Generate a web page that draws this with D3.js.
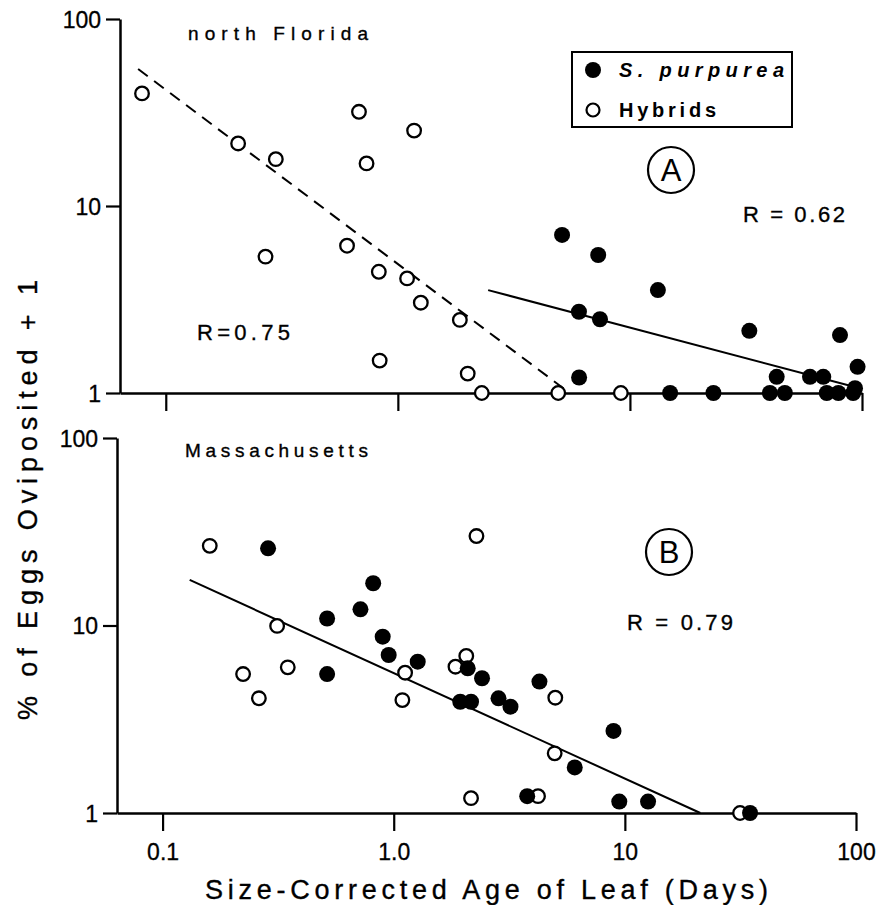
<!DOCTYPE html>
<html>
<head>
<meta charset="utf-8">
<script src="https://cdn.jsdelivr.net/npm/d3@7"></script>
<style>
  body { margin: 0; background: #fff; }
</style>
</head>
<body>
<div id="chart"></div>
<script>
// panel A - north Florida
var flPurpAge  = [5.1, 7.3, 13.2, 6.03, 7.43, 32.7, 80.4, 95.7, 6.04, 42.9, 59.7, 68.1, 93.3, 14.9, 22.9, 40.1, 46.5, 70.5, 79.1, 91.6];
var flPurpEggs = [7.0, 5.47, 3.55, 2.72, 2.48, 2.15, 2.04, 1.38, 1.21, 1.22, 1.22, 1.22, 1.06, 1, 1, 1, 1, 1, 1, 1];
var flHybAge   = [0.079, 0.205, 0.298, 0.68, 1.175, 0.733, 0.269, 0.604, 0.828, 1.096, 1.256, 0.835, 1.85, 2.0, 2.3, 4.91, 9.14];
var flHybEggs  = [40, 21.6, 17.8, 31.9, 25.3, 16.9, 5.36, 6.13, 4.45, 4.1, 3.04, 1.49, 2.46, 1.27, 1, 1, 1];
var flHybFit   = [[0.076, 54], [5.5, 1.0]];
var flPurpFit  = [[2.45, 3.55], [95, 1.07]];

// panel B - Massachusetts
var maPurpAge  = [0.286, 0.815, 0.718, 0.515, 0.896, 0.951, 1.27, 0.515, 2.09, 2.41, 1.94, 2.16, 2.84, 3.2, 4.27, 8.93, 6.07, 3.78, 9.46, 12.6, 34.8];
var maPurpEggs = [25.8, 16.8, 12.2, 10.9, 8.72, 6.96, 6.41, 5.51, 5.91, 5.23, 3.92, 3.92, 4.09, 3.69, 5.02, 2.74, 1.75, 1.23, 1.15, 1.15, 1];
var maHybAge   = [0.16, 0.313, 0.223, 0.261, 0.348, 1.12, 1.09, 2.28, 2.06, 1.85, 5.0, 4.97, 2.16, 4.21, 31.5];
var maHybEggs  = [26.6, 9.95, 5.51, 4.09, 5.98, 5.6, 4.0, 30.0, 6.88, 6.03, 4.12, 2.08, 1.2, 1.23, 1];
var maFit      = [[0.131, 17.5], [21.2, 1.0]];

var xTicks = [0.1, 1, 10, 100];
var xTickLabels = ["0.1", "1.0", "10", "100"];
var yTicks = [1, 10, 100];
var yTickLabels = ["1", "10", "100"];

var font = "'Liberation Sans', Arial, sans-serif";

var svg = d3.select("#chart").append("svg")
    .attr("width", 884)
    .attr("height", 905)
    .style("background", "#fff");

function drawPanel(cfg) {
    var x = d3.scaleLog().domain([0.0635, 100]).range(cfg.xr);
    var y = d3.scaleLog().domain([1, 100]).range(cfg.yr);
    var g = svg.append("g").attr("class", cfg.name);

    // y axis
    var yAxis = d3.axisLeft(y)
        .tickValues(yTicks)
        .tickFormat(function(d, i){ return yTickLabels[i]; })
        .tickSize(14)
        .tickSizeOuter(0)
        .tickPadding(5);
    var ya = g.append("g")
        .attr("transform", "translate(" + cfg.xr[0] + ",0)")
        .call(yAxis);

    // x axis
    var xAxis = d3.axisBottom(x)
        .tickValues(xTicks)
        .tickFormat(function(d, i){ return cfg.xLabels ? xTickLabels[i] : ""; })
        .tickSize(18)
        .tickSizeOuter(0)
        .tickPadding(13);
    var xa = g.append("g")
        .attr("transform", "translate(0," + cfg.yr[0] + ")")
        .call(xAxis);

    [ya, xa].forEach(function(a){
        a.select(".domain").attr("stroke", "#000").attr("stroke-width", 2.5);
        a.selectAll(".tick line").attr("stroke", "#000").attr("stroke-width", 2.2);
        a.selectAll("text")
            .attr("font-family", font)
            .attr("font-size", 23)
            .attr("fill", "#000")
            .attr("stroke", "#000")
            .attr("stroke-width", 0.3);
    });
    ya.selectAll("text").attr("dy", "0.36em");

    // fit lines
    var line = d3.line().x(function(d){ return x(d[0]); }).y(function(d){ return y(d[1]); });
    cfg.fits.forEach(function(f){
        g.append("path")
            .attr("d", line(f.pts))
            .attr("fill", "none")
            .attr("stroke", "#000")
            .attr("stroke-width", 2)
            .attr("stroke-dasharray", f.dashed ? "12,8" : null);
    });

    // hybrids (open)
    g.selectAll(".hyb")
        .data(d3.zip(cfg.hybX, cfg.hybY))
        .enter().append("circle")
        .attr("class", "hyb")
        .attr("cx", function(d){ return x(d[0]); })
        .attr("cy", function(d){ return y(d[1]); })
        .attr("r", 6.8)
        .attr("fill", "#fff")
        .attr("stroke", "#000")
        .attr("stroke-width", 2.3);

    // S. purpurea (filled)
    g.selectAll(".purp")
        .data(d3.zip(cfg.purpX, cfg.purpY))
        .enter().append("circle")
        .attr("class", "purp")
        .attr("cx", function(d){ return x(d[0]); })
        .attr("cy", function(d){ return y(d[1]); })
        .attr("r", 8)
        .attr("fill", "#000");
}

drawPanel({
    name: "panelA", xr: [120, 862], yr: [393, 19], xLabels: false,
    hybX: flHybAge, hybY: flHybEggs, purpX: flPurpAge, purpY: flPurpEggs,
    fits: [{pts: flHybFit, dashed: true}, {pts: flPurpFit, dashed: false}]
});

drawPanel({
    name: "panelB", xr: [117, 856], yr: [813, 438], xLabels: true,
    hybX: maHybAge, hybY: maHybEggs, purpX: maPurpAge, purpY: maPurpEggs,
    fits: [{pts: maFit, dashed: false}]
});

// text labels
function label(txt, x, y, size, len, extra) {
    var t = svg.append("text")
        .text(txt)
        .attr("x", x)
        .attr("y", y)
        .attr("font-family", font)
        .attr("font-size", size)
        .attr("fill", "#000")
        .attr("stroke", "#000")
        .attr("stroke-width", 0.35);
    if (len) t.attr("textLength", len).attr("lengthAdjust", "spacing");
    if (extra) extra(t);
    return t;
}

label("north Florida", 188, 40, 19, 180);
label("Massachusetts", 185, 457, 19, 183);
label("R=0.75", 197, 340, 22, 93);
label("R = 0.62", 743, 222, 22, 102);
label("R = 0.79", 627, 630, 22, 106);

// circled panel letters
[["A", 671, 170], ["B", 669, 552]].forEach(function(p){
    svg.append("circle")
        .attr("cx", p[1]).attr("cy", p[2]).attr("r", 23)
        .attr("fill", "none").attr("stroke", "#000").attr("stroke-width", 2.2);
    svg.append("text")
        .text(p[0])
        .attr("x", p[1]).attr("y", p[2] + 11)
        .attr("text-anchor", "middle")
        .attr("font-family", font)
        .attr("font-size", 31)
        .attr("fill", "#000");
});

// axis titles
label("Size-Corrected Age of Leaf (Days)", 205, 899, 27, 563);
label("% of Eggs Oviposited + 1", 0, 0, 27, 440, function(t){
    t.attr("text-anchor", "middle")
     .attr("x", -500)
     .attr("y", 37)
     .attr("transform", "rotate(-90)");
});

// legend
var legend = svg.append("g").attr("class", "legend");
legend.append("rect")
    .attr("x", 572).attr("y", 52).attr("width", 220).attr("height", 75)
    .attr("fill", "#fff").attr("stroke", "#000").attr("stroke-width", 2);
legend.append("circle").attr("cx", 593).attr("cy", 70).attr("r", 8).attr("fill", "#000");
legend.append("circle").attr("cx", 593).attr("cy", 110).attr("r", 6.5)
    .attr("fill", "#fff").attr("stroke", "#000").attr("stroke-width", 2.2);
legend.append("text").text("S. purpurea")
    .attr("x", 619).attr("y", 77)
    .attr("font-family", font).attr("font-size", 20).attr("font-style", "italic")
    .attr("font-weight", "bold")
    .attr("textLength", 165).attr("lengthAdjust", "spacing");
legend.append("text").text("Hybrids")
    .attr("x", 619).attr("y", 117)
    .attr("font-family", font).attr("font-size", 20).attr("font-weight", "bold")
    .attr("textLength", 97).attr("lengthAdjust", "spacing");
</script>
</body>
</html>
